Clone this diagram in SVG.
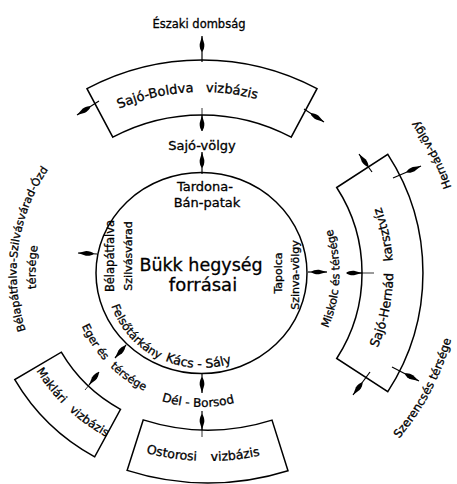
<svg xmlns="http://www.w3.org/2000/svg" width="457" height="484" viewBox="0 0 457 484">
<style>
.o{fill:none;stroke:#000;stroke-width:1.5}
.c{fill:none;stroke:#000;stroke-width:1.2}
.k{fill:none;stroke:#000;stroke-width:0.8}
.t{font-family:"DejaVu Sans","Liberation Sans",sans-serif;fill:#000;stroke:#000;stroke-width:0.3}
</style>
<defs>
<marker id="dart" markerUnits="userSpaceOnUse" viewBox="0 0 16 7" markerWidth="16" markerHeight="7" refX="16" refY="3.5" orient="auto">
<path d="M0,3.5 C2,1.6 5,1 8,1.2 L16,3.5 L8,5.8 C5,6 2,5.4 0,3.5 Z" fill="#000"/>
</marker>
<path id="pTop" d="M38.8,168.1 A213,213 0 0 1 344.5,146.7"/>
<path id="pRight" d="M334.4,409.4 A188,188 0 0 0 341.4,143.6"/>
<path id="pMak" d="M10.2,295.3 A185,185 0 0 0 183,458.7"/>
<path id="pOst" d="M81.6,425.7 A244,244 0 0 0 325.6,430.8"/>
<path id="pKacs" d="M137.9,343.6 A95,95 0 0 0 260,347.9"/>
<path id="pFel" d="M105.6,276.4 A96,96 0 0 0 188.1,368.1"/>
<path id="pEger" d="M70.8,282.1 A131,131 0 0 0 187.8,403.3"/>
<path id="pDel" d="M112.7,373.4 A134,134 0 0 0 284.9,377.9"/>
<path id="pMis" d="M303.2,366.2 A138,138 0 0 0 311,189"/>
<path id="pHer" d="M456.5,203.3 A261,261 0 0 0 406.4,107"/>
<path id="pSze" d="M340.9,488.8 A255,255 0 0 0 459.8,263.2"/>
<path id="pBel1" d="M53.8,384.3 A185,185 0 0 1 90.2,125.3"/>
<path id="pBel2" d="M80.1,386.2 A166,166 0 0 1 88.3,151.6"/>
</defs>
<rect width="457" height="484" fill="#fff"/>

<g id="source">
<ellipse class="o" cx="201.5" cy="273" rx="105.5" ry="100.5"/>
<text class="t" x="201" y="271" font-size="17.5" text-anchor="middle">Bükk hegység</text>
<text class="t" x="203" y="291" font-size="18" text-anchor="middle">forrásai</text>
<text class="t" x="205" y="191" font-size="13" text-anchor="middle">Tardona-</text>
<text class="t" x="207" y="207" font-size="13" text-anchor="middle">Bán-patak</text>
<text class="t" transform="translate(114,256) rotate(-90)" font-size="11.5" text-anchor="middle">Bélapátfalva</text>
<text class="t" transform="translate(132,256) rotate(-90)" font-size="11" text-anchor="middle">Szilvásvárad</text>
<text class="t" transform="translate(282,273) rotate(-90)" font-size="11" text-anchor="middle">Tapolca</text>
<text class="t" transform="translate(299,275) rotate(-90)" font-size="11" text-anchor="middle">Szinva-völgy</text>
<text class="t" font-size="11.5"><textPath href="#pFel" startOffset="50%" text-anchor="middle">Felsőtárkány</textPath></text>
<text class="t" font-size="12.5"><textPath href="#pKacs" startOffset="50%" text-anchor="middle">Kács - Sály</textPath></text>
</g>

<g id="sajo-boldva">
<path class="o" d="M87,88.7 A245,245 0 0 1 317,88.7 L291.2,137.2 A190,190 0 0 0 112.8,137.2 Z"/>
<text class="t" font-size="13"><textPath href="#pTop" startOffset="50%" text-anchor="middle">Sajó-Boldva <tspan dx="8">vizbázis</tspan></textPath></text>
</g>

<g id="sajo-hernad">
<path class="o" d="M336.7,187.5 L387.8,154.3 A218,218 0 0 1 387.8,391.7 L336.7,358.5 A157,157 0 0 0 336.7,187.5 Z"/>
<text class="t" font-size="12.5"><textPath href="#pRight" startOffset="50%" text-anchor="middle">Sajó-Hernád <tspan dx="8">karsztvíz</tspan></textPath></text>
</g>

<g id="maklar">
<path class="o" d="M61.3,352.2 A154,154 0 0 0 120.5,409.3 L94.7,456.8 A208,208 0 0 1 14.8,379.6 Z"/>
<text class="t" font-size="11.5"><textPath href="#pMak" startOffset="50%" text-anchor="middle">Maklári <tspan dx="6">vizbázis</tspan></textPath></text>
</g>

<g id="ostoros">
<path class="o" d="M143.2,419.9 A213,213 0 0 0 272,420.1 L288,470.7 A266,266 0 0 1 127.1,470.4 Z"/>
<text class="t" font-size="12.5"><textPath href="#pOst" startOffset="50%" text-anchor="middle">Ostorosi <tspan dx="10">vizbázis</tspan></textPath></text>
</g>

<g id="labels">
<text class="t" x="199" y="28" font-size="11.5" text-anchor="middle">Északi dombság</text>
<text class="t" x="202" y="150" font-size="13" text-anchor="middle">Sajó-völgy</text>
<text class="t" font-size="11"><textPath href="#pMis" startOffset="50%" text-anchor="middle">Miskolc és térsége</textPath></text>
<text class="t" font-size="11.3"><textPath href="#pHer" startOffset="50%" text-anchor="middle">Hernád-völgy</textPath></text>
<text class="t" font-size="11.6"><textPath href="#pSze" startOffset="50%" text-anchor="middle">Szerencsés térsége</textPath></text>
<text class="t" font-size="12"><textPath href="#pDel" startOffset="50%" text-anchor="middle">Dél - Borsod</textPath></text>
<text class="t" font-size="11"><textPath href="#pEger" startOffset="50%" text-anchor="middle">Eger és <tspan dx="5">térsége</tspan></textPath></text>
<text class="t" font-size="11"><textPath href="#pBel1" startOffset="50%" text-anchor="middle">Bélapátfalva-Szilvásvárad-Ózd</textPath></text>
<text class="t" font-size="11.3"><textPath href="#pBel2" startOffset="50%" text-anchor="middle">térsége</textPath></text>
</g>

<g id="connectors">
<path class="c" d="M202,174 L202,152" marker-end="url(#dart)"/>
<path class="c" d="M202,131 L202,115" marker-end="url(#dart)"/>
<path class="k" d="M202,116 L202,108"/>
<path class="c" d="M202,62 L202,36" marker-end="url(#dart)"/>
<path class="c" d="M99,101 L77,115" marker-end="url(#dart)"/>
<path class="c" d="M304,109 L324,122" marker-end="url(#dart)"/>
<path class="c" d="M372,172 L359,154" marker-end="url(#dart)"/>
<path class="c" d="M393,178 L421,166" marker-end="url(#dart)"/>
<path class="c" d="M392,367 L419,381" marker-end="url(#dart)"/>
<path class="c" d="M370,372 L353,395" marker-end="url(#dart)"/>
<path class="c" d="M308,272 L327,272" marker-end="url(#dart)"/>
<path class="c" d="M347,273 L362,273" marker-end="url(#dart)"/>
<path class="k" d="M361,273 L374,273"/>
<path class="c" d="M202,373 L202,393" marker-end="url(#dart)"/>
<path class="c" d="M202,411 L202,430" marker-end="url(#dart)"/>
<path class="k" d="M202,429 L202,437"/>
<path class="c" d="M126,345 L115,358" marker-end="url(#dart)"/>
<path class="c" d="M99,372 L89,385" marker-end="url(#dart)"/>
<path class="k" d="M90,384 L85,390"/>
<path class="c" d="M97,254 L78,253" marker-end="url(#dart)"/>
</g>
</svg>
